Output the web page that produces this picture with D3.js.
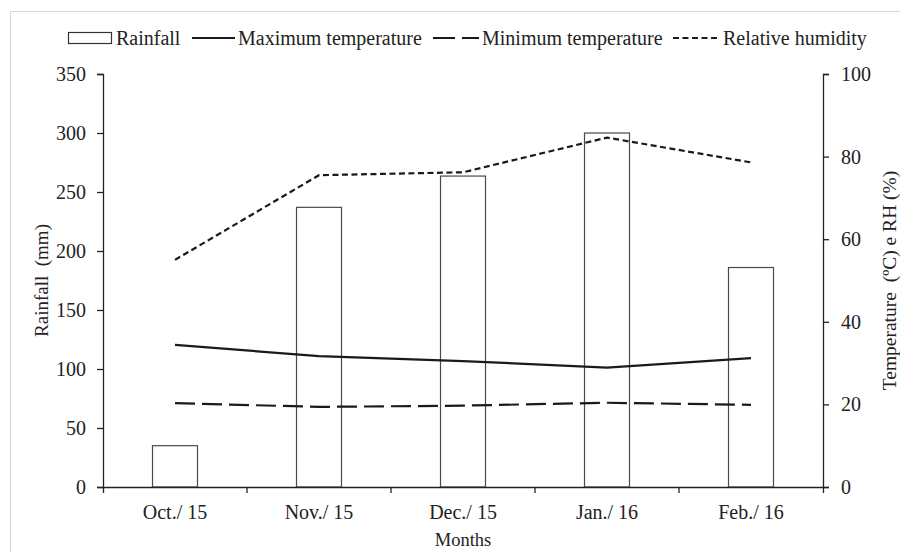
<!DOCTYPE html>
<html>
<head>
<meta charset="utf-8">
<script src="https://cdn.jsdelivr.net/npm/d3@7"></script>
<style>
  body { margin: 0; background: #fff; }
  text { font-family: "Liberation Serif", "Times New Roman", serif; fill: #222; }
</style>
</head>
<body>
<div id="chart"></div>
<script>
const WIDTH = 900;
const HEIGHT = 552;

const months = ["Oct./ 15", "Nov./ 15", "Dec./ 15", "Jan./ 16", "Feb./ 16"];
const rainfall = [35, 237, 263.5, 300, 186];
const maxTemp = [34.4, 31.7, 30.5, 28.9, 31.2];
const minTemp = [20.3, 19.4, 19.7, 20.4, 19.9];
const humidity = [55, 75.5, 76.2, 84.6, 78.6];
const leftTicks = [0, 50, 100, 150, 200, 250, 300, 350];
const rightTicks = [0, 20, 40, 60, 80, 100];

const MARGIN = { TOP: 74, BOTTOM: 65, LEFT: 103, RIGHT: 77 };
const plotW = WIDTH - MARGIN.LEFT - MARGIN.RIGHT;
const plotH = HEIGHT - MARGIN.TOP - MARGIN.BOTTOM;

const svg = d3.select("#chart")
    .append("svg")
    .attr("width", WIDTH)
    .attr("height", HEIGHT);

// light frame around the figure
svg.append("rect")
    .attr("x", 10.5).attr("y", 11.5)
    .attr("width", WIDTH).attr("height", HEIGHT)
    .attr("fill", "none")
    .attr("stroke", "#d9d9d9");

const g = svg.append("g")
    .attr("transform", `translate(${MARGIN.LEFT}, ${MARGIN.TOP})`);

const x = d3.scaleBand()
    .domain(months)
    .range([0, plotW])
    .paddingInner(0.6875)
    .paddingOuter(0.34375);

const xCell = d3.scaleBand().domain(months).range([0, plotW]).padding(0);

const yLeft = d3.scaleLinear().domain([0, 350]).range([plotH, 0]);
const yRight = d3.scaleLinear().domain([0, 100]).range([plotH, 0]);

// bars
g.selectAll(".bar")
    .data(rainfall)
    .enter()
    .append("rect")
    .attr("class", "bar")
    .attr("x", (d, i) => x(months[i]))
    .attr("y", d => yLeft(d))
    .attr("width", x.bandwidth())
    .attr("height", d => plotH - yLeft(d))
    .attr("fill", "#fff")
    .attr("stroke", "#4a4a4a")
    .attr("stroke-width", 1.2);

const cx = i => x(months[i]) + x.bandwidth() / 2;
const line = d3.line().x((d, i) => cx(i)).y(d => yRight(d));

const series = [
    { values: maxTemp, dash: null },
    { values: minTemp, dash: "20,7" },
    { values: humidity, dash: "6,3.5" }
];

series.forEach(s => {
    g.append("path")
        .datum(s.values)
        .attr("d", line)
        .attr("fill", "none")
        .attr("stroke", "#1a1a1a")
        .attr("stroke-width", 2.2)
        .attr("stroke-dasharray", s.dash);
});

// axes
const styleAxis = sel => {
    sel.selectAll("path, line").attr("stroke", "#222").attr("stroke-width", 1.3);
    sel.selectAll("text")
        .style("font-family", '"Liberation Serif", "Times New Roman", serif')
        .style("font-size", "20px")
        .attr("fill", "#222");
};

const xAxis = g.append("g")
    .attr("transform", `translate(0, ${plotH})`)
    .call(d3.axisBottom(x).tickSize(0).tickSizeOuter(6).tickPadding(18));
styleAxis(xAxis);

xAxis.selectAll(".cell-tick")
    .data(months.slice(1))
    .enter()
    .append("line")
    .attr("class", "cell-tick")
    .attr("x1", d => xCell(d)).attr("x2", d => xCell(d))
    .attr("y1", 0).attr("y2", 6)
    .attr("stroke", "#222")
    .attr("stroke-width", 1.3);

const leftAxis = g.append("g")
    .call(d3.axisLeft(yLeft).tickValues(leftTicks).tickSize(6).tickSizeOuter(6).tickPadding(11));
styleAxis(leftAxis);

const rightAxis = g.append("g")
    .attr("transform", `translate(${plotW}, 0)`)
    .call(d3.axisRight(yRight).tickValues(rightTicks).tickSize(6).tickSizeOuter(6).tickPadding(12));
styleAxis(rightAxis);

// titles
svg.append("text")
    .attr("x", MARGIN.LEFT + plotW / 2)
    .attr("y", 546)
    .attr("text-anchor", "middle")
    .style("font-size", "18.5px")
    .text("Months");

svg.append("text")
    .attr("transform", `translate(48, ${MARGIN.TOP + plotH / 2}) rotate(-90)`)
    .attr("text-anchor", "middle")
    .style("font-size", "19px")
    .style("white-space", "pre")
    .text("Rainfall  (mm)");

svg.append("text")
    .attr("transform", `translate(896, ${MARGIN.TOP + plotH / 2}) rotate(-90)`)
    .attr("text-anchor", "middle")
    .style("font-size", "19.5px")
    .style("white-space", "pre")
    .text("Temperature  (ºC) e RH (%)");

// legend
const legendY = 38;
const legend = svg.append("g");

legend.append("rect")
    .attr("x", 68.5).attr("y", 32.5)
    .attr("width", 43).attr("height", 11)
    .attr("fill", "#fff").attr("stroke", "#333").attr("stroke-width", 1.2);
legend.append("text").attr("x", 116).attr("y", legendY + 7).style("font-size", "20px").text("Rainfall");

const legendLines = [
    { x1: 192, x2: 235, dash: null, tx: 238, label: "Maximum temperature" },
    { x1: 433, x2: 479, dash: "22,7", tx: 482, label: "Minimum temperature" },
    { x1: 673, x2: 718, dash: "6,3.5", tx: 723, label: "Relative humidity" }
];

legendLines.forEach(l => {
    legend.append("line")
        .attr("x1", l.x1).attr("x2", l.x2)
        .attr("y1", legendY).attr("y2", legendY)
        .attr("stroke", "#1a1a1a").attr("stroke-width", 2.2)
        .attr("stroke-dasharray", l.dash);
    legend.append("text")
        .attr("x", l.tx).attr("y", legendY + 7)
        .style("font-size", "20px")
        .text(l.label);
});
</script>
</body>
</html>
